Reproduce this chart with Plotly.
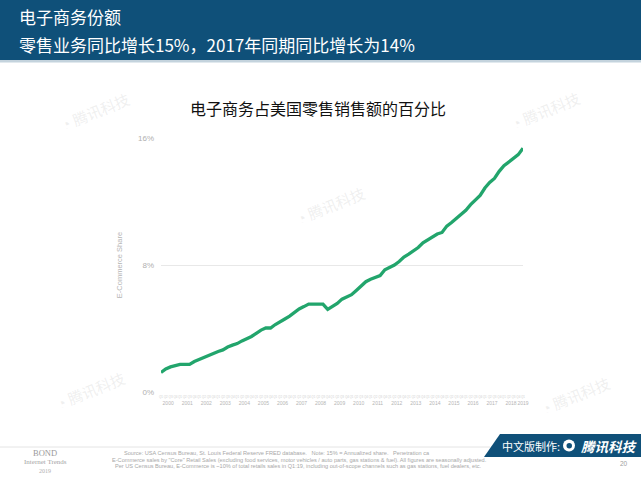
import plotly.graph_objects as go

# ---------------- data ----------------
years = list(range(2000, 2020))
quarters = [f"{y}Q{q}" for y in range(2000, 2019) for q in (1, 2, 3, 4)] + ["2019Q1"]
share = [
    1.23, 1.45, 1.58, 1.68,   # 2000
    1.74, 1.74, 1.74, 1.92,   # 2001
    2.05, 2.15, 2.33, 2.45,   # 2002
    2.55, 2.65, 2.83, 2.95,   # 2003
    3.05, 3.22, 3.36, 3.50,   # 2004
    3.70, 3.90, 4.03, 4.03,   # 2005
    4.25, 4.45, 4.60, 4.78,   # 2006
    5.00, 5.23, 5.38, 5.54,   # 2007
    5.54, 5.54, 5.54, 5.20,   # 2008
    5.40, 5.58, 5.85, 5.98,   # 2009
    6.13, 6.40, 6.70, 6.95,   # 2010
    7.10, 7.22, 7.33, 7.70,   # 2011
    7.83, 8.00, 8.22, 8.50,   # 2012
    8.68, 8.90, 9.10, 9.40,   # 2013
    9.60, 9.78, 9.95, 10.05,  # 2014
    10.45, 10.68, 10.92, 11.15,  # 2015
    11.45, 11.80, 12.12, 12.38,  # 2016
    12.85, 13.20, 13.45, 13.90,  # 2017
    14.25, 14.50, 14.70, 14.95,  # 2018
    15.35,                       # 2019 Q1
]
y_ticks = [0, 8, 16]
y_tick_labels = ["0%", "8%", "16%"]

header_line1 = "电子商务份额"
header_line2 = "零售业务同比增长15%，2017年同期同比增长为14%"
chart_title = "电子商务占美国零售销售额的百分比"
source_lines = [
    "Source: USA Census Bureau, St. Louis Federal Reserve FRED database.   Note: 15% = Annualized share.   Penetration ca",
    "E-Commerce sales by \"Core\" Retail Sales (excluding food services, motor vehicles / auto parts, gas stations & fuel). All figures are seasonally adjusted.",
    "Per US Census Bureau, E-Commerce is ~10% of total retails sales in Q1:19, including out-of-scope channels such as gas stations, fuel dealers, etc.",
]

# ---------------- geometry helpers ----------------
W, H = 641, 481
L, R, T, B = 161, 523, 138, 392  # plot area in pixels
PW, PH = R - L, B - T


def px(x):
    return (x - L) / PW


def py(y):
    return (B - y) / PH


xidx = list(range(len(quarters)))

fig = go.Figure()
fig.add_trace(go.Scatter(
    x=xidx, y=share, mode="lines",
    line=dict(color="#22a56c", width=3.3),
    hoverinfo="skip", showlegend=False,
))

# year tick positions (centre of each year's quarters)
tickvals, ticktext = [], []
for k, yv in enumerate(years):
    if yv == 2019:
        tickvals.append(len(quarters) - 1)
        ticktext.append("<span style='font-size:3px;color:#d0d0d0'>Q1</span><br>" + str(yv))
    else:
        tickvals.append(4 * k + 1.5)
        ticktext.append("<span style='font-size:3px;color:#d0d0d0'>Q1 Q2 Q3 Q4</span><br>" + str(yv))

fig.update_xaxes(
    range=[0, len(quarters) - 1], tickvals=tickvals, ticktext=ticktext,
    tickfont=dict(size=5, color="#b5b5b5", family="Liberation Sans"),
    showgrid=False, zeroline=False, showline=False, ticks="", tickangle=0,
)
fig.update_yaxes(
    range=[0, 16], tickvals=y_ticks, ticktext=y_tick_labels,
    tickfont=dict(size=8, color="#b0b0b0", family="Liberation Sans"),
    showgrid=True, gridcolor="#e8e8e8", gridwidth=1, zeroline=False,
    showline=False, ticks="", ticklabelstandoff=6,
    title=dict(text="E-Commerce Share", font=dict(size=7.5, color="#b5b5b5",
                                                    family="Liberation Sans"), standoff=14),
)

shapes = []
annotations = []

# header banner
shapes.append(dict(type="rect", xref="paper", yref="paper", x0=px(0), x1=px(W),
                   y0=py(60), y1=py(0), fillcolor="#0f5079", line=dict(width=0), layer="below"))
shapes.append(dict(type="rect", xref="paper", yref="paper", x0=px(0), x1=px(W),
                   y0=py(62.5), y1=py(60), fillcolor="#c4d3dd", line=dict(width=0), layer="below"))
annotations.append(dict(text=header_line1, xref="paper", yref="paper", x=px(17), y=py(17),
                        xanchor="left", yanchor="middle", showarrow=False,
                        font=dict(size=17, color="white", family="Noto Sans CJK SC")))
annotations.append(dict(text=header_line2, xref="paper", yref="paper", x=px(17), y=py(44),
                        xanchor="left", yanchor="middle", showarrow=False,
                        font=dict(size=17, color="white", family="Noto Sans CJK SC")))

# chart title
annotations.append(dict(text=chart_title, xref="paper", yref="paper", x=px(318), y=py(108),
                        xanchor="center", yanchor="middle", showarrow=False,
                        font=dict(size=16, color="#111111", family="Noto Sans CJK SC")))

# faint watermarks
for (wx, wy) in [(95, 112), (330, 205), (545, 110), (90, 390), (575, 395)]:
    annotations.append(dict(text="◔ 腾讯科技", xref="paper", yref="paper", x=px(wx), y=py(wy),
                            xanchor="center", yanchor="middle", showarrow=False, textangle=-22,
                            font=dict(size=15, color="rgba(200,200,200,0.28)",
                                      family="Noto Sans CJK SC")))

# footer
shapes.append(dict(type="line", xref="paper", yref="paper", x0=px(0), x1=px(490),
                   y0=py(447), y1=py(447), line=dict(color="#e4e4e4", width=1)))
annotations.append(dict(text="BOND", xref="paper", yref="paper", x=px(45), y=py(453),
                        xanchor="center", yanchor="middle", showarrow=False,
                        font=dict(size=8.5, color="#9a9a9a", family="Liberation Serif")))
annotations.append(dict(text="Internet Trends", xref="paper", yref="paper", x=px(45), y=py(462),
                        xanchor="center", yanchor="middle", showarrow=False,
                        font=dict(size=7, color="#a5a5a5", family="Liberation Serif")))
annotations.append(dict(text="2019", xref="paper", yref="paper", x=px(45), y=py(471),
                        xanchor="center", yanchor="middle", showarrow=False,
                        font=dict(size=6, color="#b0b0b0", family="Liberation Serif")))
for line, xx, yy in zip(source_lines, [122, 110, 113], [452.5, 459.5, 466]):
    annotations.append(dict(text=line, xref="paper", yref="paper", x=px(xx), y=py(yy),
                            xanchor="left", yanchor="middle", showarrow=False,
                            font=dict(size=5.6, color="#a8a8a8", family="Liberation Sans")))
annotations.append(dict(text="20", xref="paper", yref="paper", x=px(624), y=py(463),
                        xanchor="center", yanchor="middle", showarrow=False,
                        font=dict(size=6.5, color="#a0a0a0", family="Liberation Sans")))

# Tencent credit banner
path = "M {} {} L {} {} L {} {} L {} {} Z".format(
    px(484), py(457), px(500), py(434), px(641), py(434), px(641), py(457))
shapes.append(dict(type="path", xref="paper", yref="paper", path=path,
                   fillcolor="#0f5079", line=dict(width=0)))
annotations.append(dict(text="中文版制作:", xref="paper", yref="paper", x=px(500), y=py(445.5),
                        xanchor="left", yanchor="middle", showarrow=False,
                        font=dict(size=11, color="white", family="Noto Sans CJK SC")))
shapes.append(dict(type="circle", xref="paper", yref="paper", x0=px(563), x1=px(575),
                   y0=py(451.5), y1=py(439.5), fillcolor="white", line=dict(width=0)))
shapes.append(dict(type="circle", xref="paper", yref="paper", x0=px(566.5), x1=px(572),
                   y0=py(448.5), y1=py(443), fillcolor="#0f5079", line=dict(width=0)))
annotations.append(dict(text="<b><i>腾讯科技</i></b>", xref="paper", yref="paper", x=px(579), y=py(445.5),
                        xanchor="left", yanchor="middle", showarrow=False,
                        font=dict(size=13.5, color="white", family="Noto Sans CJK SC")))

fig.update_layout(
    width=W, height=H,
    margin=dict(l=L, r=W - R, t=T, b=H - B, pad=0),
    paper_bgcolor="white", plot_bgcolor="white",
    shapes=shapes, annotations=annotations, showlegend=False,
)

fig.write_html("out.html", config={"displayModeBar": False},
               post_script="document.body.style.margin='0';document.body.style.overflow='hidden';")
